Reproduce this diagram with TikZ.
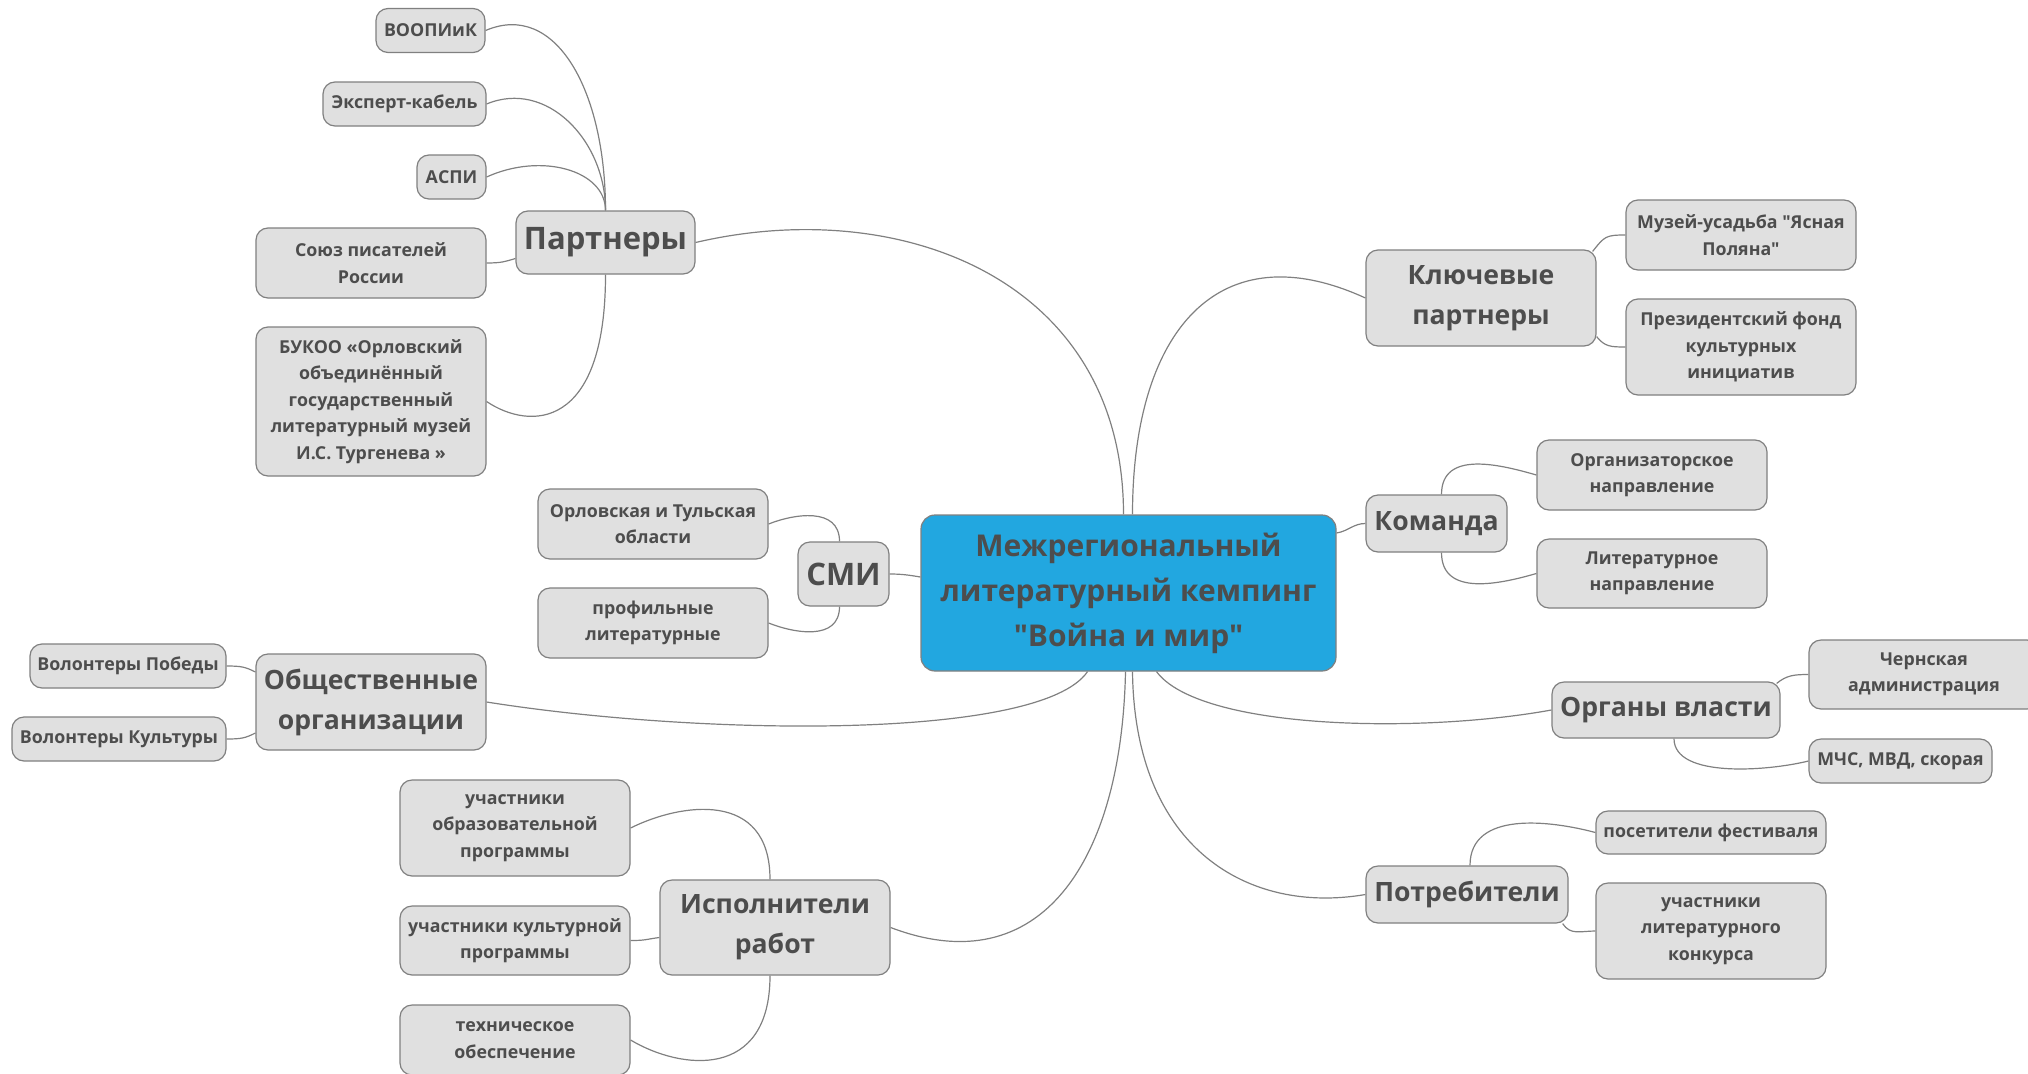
\documentclass[tikz,border=0pt]{standalone}
\usepackage{fontspec}
\setmainfont{Open Sans}[Ligatures=TeXOff]
\definecolor{boxfill}{HTML}{E0E0E0}
\definecolor{boxline}{HTML}{808080}
\definecolor{inkgray}{HTML}{4D4D4D}
\definecolor{rootblue}{HTML}{22A7E0}
\begin{document}
\begin{tikzpicture}[x=1pt, y=-1pt,
    box/.style={draw=boxline, line width=1.2pt, fill=boxfill, rounded corners=12pt,
        text=inkgray, align=center, inner sep=0pt},
    leaf/.style={box, font=\bfseries\fontsize{17.8}{26.5}\selectfont, minimum width=230pt},
    branch/.style={box, font=\bfseries\fontsize{26.6}{40}\selectfont, minimum width=230pt},
    bigbranch/.style={branch, font=\bfseries\fontsize{31}{40}\selectfont},
    root/.style={box, fill=rootblue, rounded corners=14pt, font=\bfseries\fontsize{30}{45}\selectfont},
    link/.style={draw=boxline, line width=1.2pt}]
    \useasboundingbox (0,0) rectangle (2028,1073);
    \clip (0,0) rectangle (2028,1073);

    % root
    \node (camp) [root, minimum width=415pt, minimum height=156pt] at (1128.5,593) {Межрегиональный\\литературный кемпинг\\"Война и мир"};

    % left side
    \node (partners) [bigbranch, minimum width=179pt, minimum height=63pt] at (605.5,242.5) {Партнеры};
    \node (voopiik) [leaf, minimum width=109pt, minimum height=44pt] at (430.5,30.5) {ВООПИиК};
    \node (expert) [leaf, minimum width=163pt, minimum height=44pt] at (404.5,104) {Эксперт-кабель};
    \node (aspi) [leaf, minimum width=69pt, minimum height=44pt] at (451.5,177) {АСПИ};
    \node (soyuz) [leaf, minimum height=70pt] at (371,263) {Союз писателей\\России};
    \node (bukoo) [leaf, minimum height=149pt] at (371,401.5) {БУКОО «Орловский\\объединённый\\государственный\\литературный музей\\И.С. Тургенева »};

    \node (media) [bigbranch, minimum width=91pt, minimum height=64pt] at (843.5,574) {СМИ};
    \node (regions) [leaf, minimum height=70pt] at (653,524) {Орловская и Тульская\\области};
    \node (litmedia) [leaf, minimum height=70pt] at (653,623) {профильные\\литературные};

    \node (public) [branch, minimum height=96pt] at (371,702) {Общественные\\организации};
    \node (vpobedy) [leaf, minimum width=196pt, minimum height=44pt] at (128,666) {Волонтеры Победы};
    \node (vkult) [leaf, minimum width=214pt, minimum height=44pt] at (119,739) {Волонтеры Культуры};

    \node (workers) [branch, minimum height=95pt] at (775,927.5) {Исполнители\\работ};
    \node (edu) [leaf, minimum height=96pt] at (515,828) {участники\\образовательной\\программы};
    \node (cult) [leaf, minimum height=69pt] at (515,940.5) {участники культурной\\программы};
    \node (tech) [leaf, minimum height=70pt] at (515,1040) {техническое\\обеспечение};

    % right side
    \node (keypart) [branch, minimum height=96pt] at (1481,298) {Ключевые\\партнеры};
    \node (yasnaya) [leaf, minimum height=70pt] at (1741,235) {Музей-усадьба "Ясная\\Поляна"};
    \node (pfki) [leaf, minimum height=96pt] at (1741,347) {Президентский фонд\\культурных\\инициатив};

    \node (team) [branch, minimum width=141pt, minimum height=57pt] at (1436.5,523.5) {Команда};
    \node (orgdir) [leaf, minimum height=70pt] at (1652,475) {Организаторское\\направление};
    \node (litdir) [leaf, minimum height=69pt] at (1652,573.5) {Литературное\\направление};

    \node (gov) [branch, minimum width=228pt, minimum height=56pt] at (1666,710) {Органы власти};
    \node (chern) [leaf, minimum height=69pt] at (1924,674.5) {Чернская\\администрация};
    \node (mchs) [leaf, minimum width=183pt, minimum height=44pt] at (1900.5,761) {МЧС, МВД, скорая};

    \node (consumers) [branch, minimum width=202pt, minimum height=57pt] at (1467,894.5) {Потребители};
    \node (visitors) [leaf, minimum height=43pt] at (1711,832.5) {посетители фестиваля};
    \node (contest) [leaf, minimum height=96pt] at (1711,931) {участники\\литературного\\конкурса};

    % root to branches
    \draw[link] ([xshift=-5pt]camp.north) .. controls +(0,-235) and +(205,-48) .. (partners.east);
    \draw[link] ([xshift=4pt]camp.north) .. controls +(0,-185) and +(-146,-67) .. (keypart.west);
    \draw[link] ([yshift=60pt]camp.east) .. controls +(12,-2) and +(-12,0) .. (team.west);
    \draw[link] ([xshift=28pt]camp.south) .. controls +(43,58) and +(-132,24) .. (gov.west);
    \draw[link] ([xshift=4pt]camp.south) .. controls +(2,178) and +(-116,20) .. (consumers.west);
    \draw[link] ([xshift=-3pt]camp.south) .. controls +(-4,190) and +(150,57) .. (workers.east);
    \draw[link] ([xshift=-41pt]camp.south) .. controls +(-47,69) and +(214,34) .. (public.east);
    \draw[link] ([yshift=16pt]camp.west) .. controls +(-12,-2) and +(12,0) .. (media.east);

    % branches to leaves
    \draw[link] (partners.north) .. controls +(0,-120) and +(70,-30) .. (voopiik.east);
    \draw[link] (partners.north) .. controls +(0,-70) and +(60,-25) .. (expert.east);
    \draw[link] (partners.north) .. controls +(0,-40) and +(55,-25) .. (aspi.east);
    \draw[link] ([yshift=-16pt]partners.west) .. controls +(-10,3) and +(15,0) .. (soyuz.east);
    \draw[link] (partners.south) .. controls +(0,156) and +(43,29) .. (bukoo.east);

    \draw[link] ([xshift=-4pt]media.north) .. controls +(0,-35) and +(25,-10) .. (regions.east);
    \draw[link] ([xshift=-4pt]media.south) .. controls +(0,35) and +(25,10) .. (litmedia.east);

    \draw[link] ([yshift=30pt]public.west) .. controls +(-10,-5) and +(15,0) .. (vpobedy.east);
    \draw[link] ([yshift=-31pt]public.west) .. controls +(-10,5) and +(15,0) .. (vkult.east);

    \draw[link] ([xshift=-5pt]workers.north) .. controls +(0,-90) and +(50,-25) .. (edu.east);
    \draw[link] ([yshift=-10pt]workers.west) .. controls +(-15,2) and +(15,0) .. (cult.east);
    \draw[link] ([xshift=-5pt]workers.south) .. controls +(0,105) and +(50,30) .. (tech.east);

    \draw[link] ([xshift=-4pt,yshift=-2pt]keypart.north east) .. controls +(12,-15) and +(-20,0) .. (yasnaya.west);
    \draw[link] ([yshift=10pt]keypart.south east) .. controls +(8,10) and +(-15,0) .. (pfki.west);

    \draw[link] ([xshift=5pt]team.north) .. controls +(0,-45) and +(-35,-10) .. (orgdir.west);
    \draw[link] ([xshift=5pt]team.south) .. controls +(0,45) and +(-35,10) .. (litdir.west);

    \draw[link] ([xshift=-4pt,yshift=-2pt]gov.north east) .. controls +(10,-8) and +(-15,0) .. (chern.west);
    \draw[link] ([xshift=8pt]gov.south) .. controls +(0,40) and +(-40,10) .. (mchs.west);

    \draw[link] ([xshift=3pt]consumers.north) .. controls +(0,-55) and +(-45,-12) .. (visitors.west);
    \draw[link] ([xshift=-6pt]consumers.south east) .. controls +(8,12) and +(-15,0) .. (contest.west);
\end{tikzpicture}
\end{document}
